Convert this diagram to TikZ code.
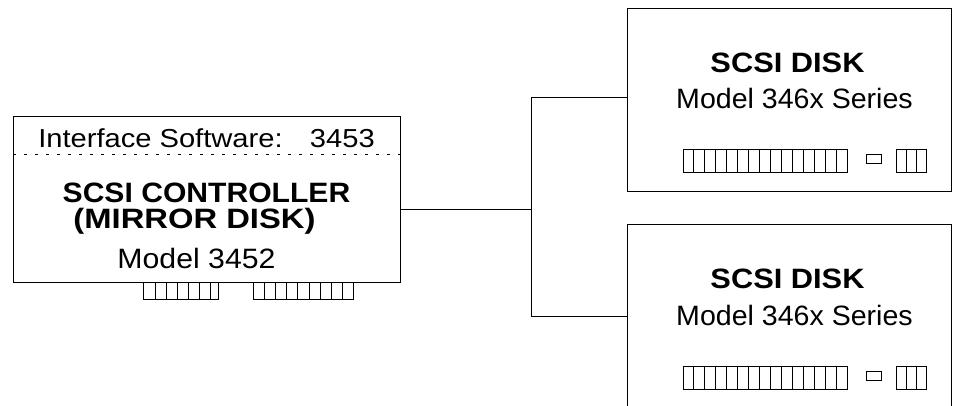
\documentclass[tikz,border=0pt]{standalone}
\usepackage{fontspec}
\setmainfont{Liberation Sans}
\newcommand{\fs}[2]{\fontsize{#1}{#1}\selectfont\addfontfeature{FakeStretch=#2}}
\begin{document}
\begin{tikzpicture}[x=1pt,y=-1pt,line width=1pt,
  box/.style={draw=black,line width=1pt,anchor=north west,inner sep=0pt},
  lbl/.style={anchor=base,inner sep=0pt},
  wire/.style={draw=black,line width=1pt},
  pinrow/.style={draw=black,line width=1pt}]
\useasboundingbox (0,0) rectangle (956,405);
\clip (0,0) rectangle (956,405);
% controller
\node[box,minimum width=387pt,minimum height=166pt] (ctrl) at (13,116) {};
\draw[dash pattern=on 3pt off 8pt,line width=0.8pt] (ctrl.north west |- 0,154) -- (ctrl.north east |- 0,154);
\node[lbl,font=\fs{26}{1.12}] (isw) at (206.5,147) {Interface Software:\hspace{1.05em}3453};
\node[lbl,font=\fs{28}{1.075}\bfseries] (t1) at (206.5,202) {SCSI CONTROLLER};
\node[lbl,font=\fs{28}{1.17}\bfseries] (t2) at (194.5,228) {(MIRROR DISK)};
\node[lbl,font=\fs{28}{1.08}] (t3) at (196.5,268) {Model 3452};
% controller edge connectors
\draw[pinrow] (143,282) -- (143,299) -- (218,299) -- (218,282);
\foreach \x in {155,166,177,188,199,210} \draw[pinrow] (\x,282) -- (\x,299);
\draw[pinrow] (253,282) -- (253,299) -- (353,299) -- (353,282);
\foreach \x in {264,275,286,297,309,320,331,342} \draw[pinrow] (\x,282) -- (\x,299);
% disks
\node[box,minimum width=324pt,minimum height=183pt] (d1) at (627,8) {};
\node[box,minimum width=324pt,minimum height=184pt] (d2) at (627,224) {};
\node[lbl,font=\fs{28}{1.1}\bfseries] (d1a) at (787.5,72) {SCSI DISK};
\node[lbl,font=\fs{28}{1.02}] (d1b) at (794.5,108) {Model 346x Series};
\node[lbl,font=\fs{28}{1.1}\bfseries] (d2a) at (787.5,288) {SCSI DISK};
\node[lbl,font=\fs{28}{1.02}] (d2b) at (794.5,325) {Model 346x Series};
\foreach \y in {149,366}{
  \draw[pinrow] (683,\y) rectangle (847,\y+23);
  \foreach \k in {1,...,14} \draw[pinrow] (683+\k*10.93,\y) -- (683+\k*10.93,\y+23);
  \draw[pinrow] (866,\y+5) rectangle (881,\y+14);
  \draw[pinrow] (896,\y) rectangle (926,\y+23);
  \draw[pinrow] (906,\y) -- (906,\y+23);
  \draw[pinrow] (916,\y) -- (916,\y+23);
}
% wiring
\coordinate (j) at (531,209);
\coordinate (jt) at (531,97);
\coordinate (jb) at (531,316);
\draw[wire] (ctrl.east |- j) -- (j);
\draw[wire] (jt -| d1.west) -- (jt) -- (jb) -- (jb -| d2.west);
\end{tikzpicture}
\end{document}
